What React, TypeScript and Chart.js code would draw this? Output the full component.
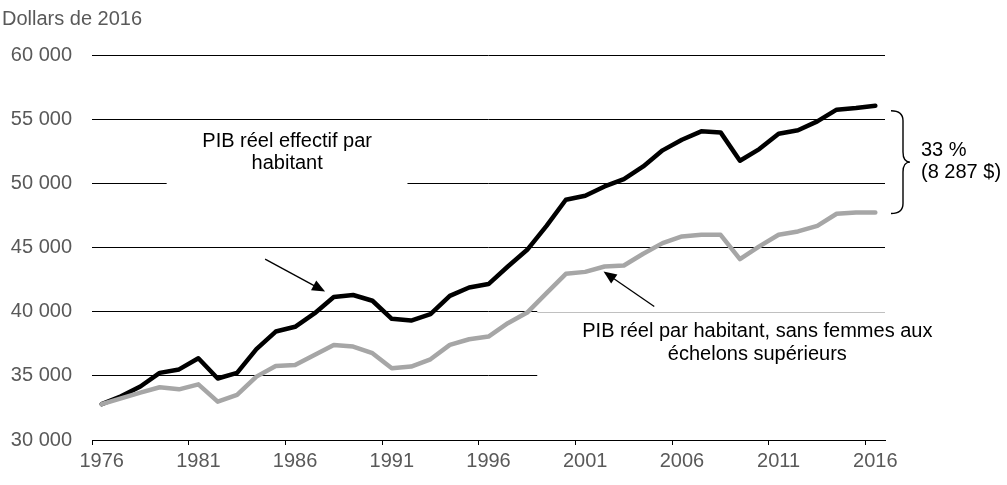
import { useEffect, useRef } from 'react'
import { Chart, registerables } from 'chart.js'

Chart.register(...registerables)

const years = Array.from({ length: 41 }, (_, i) => String(1976 + i))

// PIB réel effectif par habitant (dollars de 2016)
const actual = [
  32790, 33400, 34170, 35230, 35500, 36370, 34790, 35230, 37080, 38450,
  38820, 39860, 41140, 41300, 40850, 39440, 39310, 39800, 41230, 41880,
  42150, 43520, 44820, 46690, 48720, 49030, 49760, 50330, 51320, 52570,
  53400, 54050, 53970, 51760, 52670, 53870, 54130, 54830, 55740, 55870,
  56050,
]

// PIB réel par habitant, sans femmes aux échelons supérieurs
const noWomen = [
  32790, 33250, 33690, 34110, 33950, 34340, 32990, 33510, 34940, 35770,
  35850, 36630, 37410, 37280, 36760, 35590, 35720, 36290, 37410, 37850,
  38060, 39100, 39930, 41440, 42950, 43100, 43520, 43600, 44510, 45340,
  45860, 45990, 45990, 44100, 45090, 45990, 46250, 46690, 47630, 47730,
  47730,
]

const yTicks = [30000, 35000, 40000, 45000, 50000, 55000, 60000]
const gapPct = '33 %'
const gapDollars = '(8 287 $)'

const FONT = '"Liberation Sans", Arial, sans-serif'
const SIZE = 20
const fmt = (v: number) => String(v).replace(/\B(?=(\d{3})+(?!\d))/g, ' ')

function arrow(ctx: CanvasRenderingContext2D, x0: number, y0: number, x1: number, y1: number) {
  const a = Math.atan2(y1 - y0, x1 - x0)
  const len = 13, w = 5.5
  ctx.beginPath()
  ctx.moveTo(x0, y0)
  ctx.lineTo(x1 - Math.cos(a) * len * 0.8, y1 - Math.sin(a) * len * 0.8)
  ctx.lineWidth = 1.3
  ctx.strokeStyle = '#000'
  ctx.stroke()
  ctx.beginPath()
  ctx.moveTo(x1, y1)
  ctx.lineTo(x1 - Math.cos(a) * len - Math.sin(a) * w, y1 - Math.sin(a) * len + Math.cos(a) * w)
  ctx.lineTo(x1 - Math.cos(a) * len + Math.sin(a) * w, y1 - Math.sin(a) * len - Math.cos(a) * w)
  ctx.closePath()
  ctx.fillStyle = '#000'
  ctx.fill()
}

const annotations = {
  id: 'annotations',
  beforeDatasetsDraw(chart: any) {
    const { ctx, chartArea, scales } = chart
    const x = scales.x, y = scales.y
    ctx.save()
    ctx.fillStyle = '#fff'
    // boîte derrière l'étiquette de gauche
    const l = x.getPixelForValue(3.36), r = x.getPixelForValue(15.81)
    ctx.fillRect(l, y.getPixelForValue(54500), r - l, y.getPixelForValue(49500) - y.getPixelForValue(54500))
    // boîte derrière l'étiquette de droite
    const l2 = x.getPixelForValue(22.52)
    ctx.fillRect(l2, y.getPixelForValue(40000) - 1, chartArea.right - l2 + 2, y.getPixelForValue(34000) - y.getPixelForValue(40000))
    ctx.beginPath()
    ctx.moveTo(l2, Math.round(y.getPixelForValue(40000)) + 0.5)
    ctx.lineTo(chartArea.right, Math.round(y.getPixelForValue(40000)) + 0.5)
    ctx.strokeStyle = '#c0c0c0'
    ctx.lineWidth = 1
    ctx.stroke()
    ctx.restore()
  },
  afterDraw(chart: any) {
    const { ctx, chartArea, scales } = chart
    const x = scales.x, y = scales.y
    ctx.save()
    ctx.font = `${SIZE}px ${FONT}`
    ctx.fillStyle = '#595959'
    ctx.textAlign = 'left'
    ctx.textBaseline = 'middle'
    ctx.fillText('Dollars de 2016', 2, 19)

    ctx.fillStyle = '#000'
    ctx.textAlign = 'center'
    const cx1 = x.getPixelForValue(9.59)
    ctx.fillText('PIB réel effectif par', cx1, y.getPixelForValue(53270))
    ctx.fillText('habitant', cx1, y.getPixelForValue(51530))
    const cx2 = x.getPixelForValue(33.9)
    ctx.fillText('PIB réel par habitant, sans femmes aux', cx2, y.getPixelForValue(38450))
    ctx.fillText('échelons supérieurs', cx2, y.getPixelForValue(36630))

    arrow(ctx, x.getPixelForValue(8.45), y.getPixelForValue(44095), x.getPixelForValue(11.55), y.getPixelForValue(41567))
    arrow(ctx, x.getPixelForValue(28.57), y.getPixelForValue(40397), x.getPixelForValue(25.95), y.getPixelForValue(43127))

    // accolade
    const yTop = y.getPixelForValue(actual[actual.length - 1]) + 5
    const yBot = y.getPixelForValue(noWomen[noWomen.length - 1]) + 1
    const yMid = (yTop + yBot) / 2
    const x0 = chartArea.right + 6, xm = x0 + 12, xp = x0 + 19, rr = 10
    ctx.beginPath()
    ctx.moveTo(x0, yTop)
    ctx.quadraticCurveTo(xm, yTop, xm, yTop + rr)
    ctx.lineTo(xm, yMid - rr)
    ctx.quadraticCurveTo(xm, yMid, xp, yMid)
    ctx.quadraticCurveTo(xm, yMid, xm, yMid + rr)
    ctx.lineTo(xm, yBot - rr)
    ctx.quadraticCurveTo(xm, yBot, x0, yBot)
    ctx.lineWidth = 1.4
    ctx.strokeStyle = '#000'
    ctx.stroke()

    ctx.textAlign = 'left'
    ctx.fillText(gapPct, chartArea.right + 36, yMid - 12)
    ctx.fillText(gapDollars, chartArea.right + 36, yMid + 10)
    ctx.restore()
  },
}

export default function App() {
  const ref = useRef<HTMLCanvasElement>(null)
  const chart = useRef<Chart | null>(null)

  useEffect(() => {
    document.body.style.margin = '0'
    if (!ref.current) return
    chart.current?.destroy()
    chart.current = new Chart(ref.current, {
      type: 'line',
      data: {
        labels: years,
        datasets: [
          {
            label: 'PIB réel par habitant, sans femmes aux échelons supérieurs',
            data: noWomen,
            borderColor: '#a6a6a6', borderWidth: 4.5,
            borderJoinStyle: 'round', borderCapStyle: 'round',
            pointRadius: 0, tension: 0,
          },
          {
            label: 'PIB réel effectif par habitant',
            data: actual,
            borderColor: '#000', borderWidth: 4.5,
            borderJoinStyle: 'round', borderCapStyle: 'round',
            pointRadius: 0, tension: 0,
          },
        ],
      },
      options: {
        animation: false,
        responsive: true, maintainAspectRatio: false,
        layout: { padding: { left: 0, right: 122, top: 55, bottom: 0 } },
        plugins: { legend: { display: false }, tooltip: { enabled: false } },
        scales: {
          x: {
            offset: true,
            grid: {
              offset: true, drawOnChartArea: false, drawTicks: true, tickLength: 5,
              color: (c: any) => (c.index !== undefined && c.index % 5 === 0 ? '#000' : 'rgba(0,0,0,0)'),
            },
            border: { display: true, color: '#000', width: 1 },
            ticks: {
              autoSkip: false, maxRotation: 0, padding: 4,
              color: '#595959', font: { family: FONT, size: SIZE },
              callback: (_v: any, i: number) => (i % 5 === 0 ? years[i] : ''),
            },
            afterFit: (s: any) => { s.height = 45 },
          },
          y: {
            min: yTicks[0], max: yTicks[yTicks.length - 1],
            afterBuildTicks: (s: any) => { s.ticks = yTicks.map(v => ({ value: v })) },
            grid: { color: '#000', lineWidth: 1, drawTicks: false },
            border: { display: false },
            ticks: {
              padding: 20, color: '#595959', font: { family: FONT, size: SIZE },
              callback: (v: any) => fmt(Number(v)),
            },
            afterFit: (s: any) => { s.width = 92 },
          },
        },
      },
      plugins: [annotations],
    })
    return () => chart.current?.destroy()
  }, [])

  return (
    <div style={{ width: 1007, height: 485, position: 'relative', background: '#fff' }}>
      <canvas ref={ref} role="img" aria-label="PIB réel par habitant, 1976-2016" />
    </div>
  )
}
